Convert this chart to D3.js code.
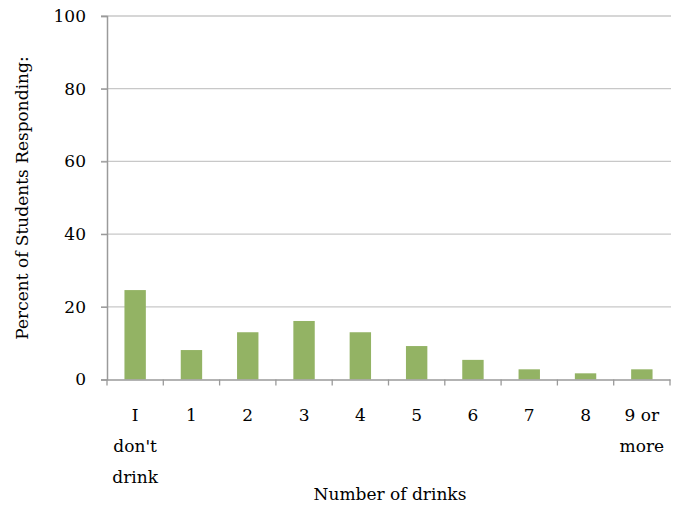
<!DOCTYPE html>
<html><head><meta charset="utf-8">
<script src="https://cdn.jsdelivr.net/npm/d3@7"></script>
<style>body{margin:0;background:#fff;} svg text{font-family:"DejaVu Serif",serif !important;fill:#000;}</style>
</head><body>
<svg id="c" width="683" height="506"></svg>
<script>
const categories = ["I don't drink","1","2","3","4","5","6","7","8","9 or more"];
const categoryLines = [["I","don't","drink"],["1"],["2"],["3"],["4"],["5"],["6"],["7"],["8"],["9 or","more"]];
const values = [24.6, 8.1, 13.0, 16.1, 13.0, 9.2, 5.4, 2.8, 1.7, 2.8];
const yTicks = [0, 20, 40, 60, 80, 100];

const svg = d3.select("#c");
const mLeft = 107, mRight = 670, mTop = 16, mBottom = 379.5;
const FS = 17;
const x = d3.scaleBand().domain(categories).range([mLeft, mRight]).paddingInner(0.62).paddingOuter(0.31);
const xb = d3.scaleBand().domain(categories).range([mLeft, mRight]);
const y = d3.scaleLinear().domain([0, 100]).range([mBottom, mTop]);

// gridlines
svg.append("g").selectAll("line").data(yTicks.filter(d => d > 0)).join("line")
  .attr("x1", mLeft - 6).attr("x2", mRight + 1)
  .attr("y1", d => y(d)).attr("y2", d => y(d))
  .attr("stroke", "#c8c8c8").attr("stroke-width", 1.3);

// bars
svg.append("g").selectAll("rect").data(values).join("rect")
  .attr("x", (d, i) => x(categories[i])).attr("width", x.bandwidth())
  .attr("y", d => y(d)).attr("height", d => y(0) - y(d))
  .attr("fill", "#93b364");

// y axis
const ya = svg.append("g").attr("transform", `translate(${mLeft},0)`)
  .call(d3.axisLeft(y).tickValues(yTicks).tickSize(6).tickPadding(15));
ya.select(".domain").attr("stroke", "#9a9a9a").attr("stroke-width", 1.5);
ya.selectAll(".tick line").attr("stroke", "#9a9a9a").attr("stroke-width", 1.3);
ya.selectAll(".tick text").attr("font-size", FS);

// x axis
const xa = svg.append("g").attr("transform", `translate(0,${mBottom})`)
  .call(d3.axisBottom(xb).tickValues([]).tickSizeOuter(0));
xa.select(".domain").attr("stroke", "#9a9a9a").attr("stroke-width", 1.5);
const edges = categories.map(c => xb(c)).concat([mRight]);
svg.append("g").selectAll("line").data(edges).join("line")
  .attr("x1", d => d).attr("x2", d => d).attr("y1", mBottom).attr("y2", mBottom + 6)
  .attr("stroke", "#9a9a9a").attr("stroke-width", 1.3);

// x labels
const lab = svg.append("g").selectAll("text").data(categoryLines).join("text")
  .attr("text-anchor", "middle").attr("font-size", FS)
  .attr("x", (d, i) => xb(categories[i]) + xb.bandwidth() / 2)
  .attr("y", 421);
lab.selectAll("tspan").data((d, i) => d.map(t => ({t, x: xb(categories[i]) + xb.bandwidth() / 2}))).join("tspan")
  .attr("x", d => d.x).attr("dy", (d, j) => j === 0 ? 0 : 31).text(d => d.t);

// axis titles
svg.append("text").attr("x", 390).attr("y", 500).attr("text-anchor", "middle")
  .attr("font-size", FS).text("Number of drinks");
svg.append("text").attr("transform", "translate(28,198) rotate(-90)").attr("text-anchor", "middle")
  .attr("font-size", FS).text("Percent of Students Responding:");
</script>
</body></html>
